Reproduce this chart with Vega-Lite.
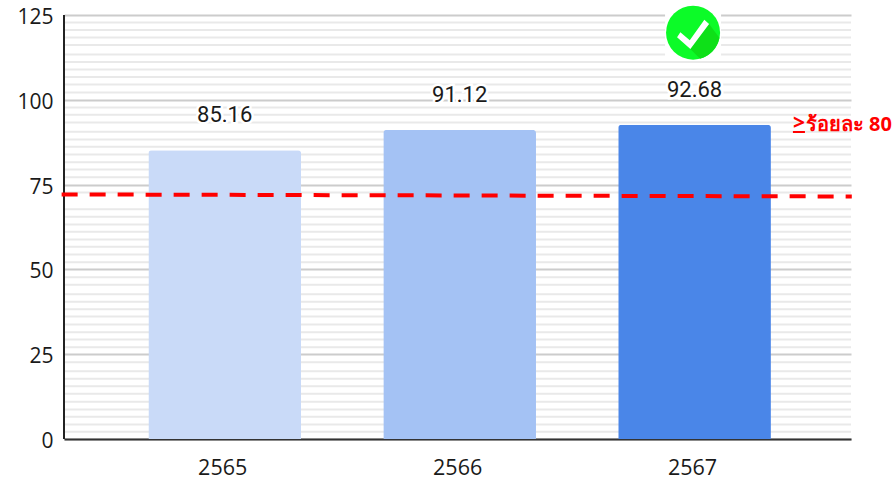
{
  "$schema": "https://vega.github.io/schema/vega-lite/v6.json",
  "width": 787,
  "height": 424,
  "autosize": "none",
  "padding": {"left": 64, "top": 15, "right": 42, "bottom": 40},
  "background": "white",
  "config": {"view": {"stroke": null}},
  "datasets": {
    "bars": [
      {"year": "2565", "value": 85.16, "fill": "a"},
      {"year": "2566", "value": 91.12, "fill": "b"},
      {"year": "2567", "value": 92.68, "fill": "c"}
    ],
    "minor": [
      {"v": 122.79}, {"v": 120.58}, {"v": 118.37}, {"v": 116.16}, {"v": 113.35}, {"v": 111.14},
      {"v": 108.93}, {"v": 106.72}, {"v": 104.51}, {"v": 102.15}, {"v": 97.73}, {"v": 95.58},
      {"v": 93.31}, {"v": 90.57}, {"v": 88.3}, {"v": 86.14}, {"v": 83.87}, {"v": 81.6},
      {"v": 79.45}, {"v": 77.18}, {"v": 72.67}, {"v": 67.75}, {"v": 65.51}, {"v": 63.24},
      {"v": 61.08}, {"v": 58.81}, {"v": 56.66}, {"v": 54.39}, {"v": 52.12}, {"v": 47.7},
      {"v": 45.46}, {"v": 42.69}, {"v": 40.45}, {"v": 38.27}, {"v": 36.11}, {"v": 33.76},
      {"v": 31.49}, {"v": 29.33}, {"v": 27.06}, {"v": 22.64}, {"v": 19.99}, {"v": 17.75},
      {"v": 15.57}, {"v": 13.33}, {"v": 10.97}, {"v": 8.7}, {"v": 6.54}, {"v": 4.27}, {"v": 2.12}
    ],
    "target": [
      {"pos": -0.003, "v": 72.1},
      {"pos": 1.001, "v": 71.5}
    ],
    "yline": [{"pos": 0, "from": 0, "to": 125}],
    "badge": [{"year": "2567", "v": 119.8}],
    "note": [{"pos": 0.9262, "end": 0.9415, "v": 92.5, "under": 90.5, "mark": ">", "text": "ร้อยละ 80"}]
  },
  "resolve": {"scale": {"x": "independent", "color": "independent"}},
  "layer": [
    {
      "data": {"name": "minor"},
      "mark": {"type": "rule", "stroke": "#e9e9e9", "strokeWidth": 2},
      "encoding": {
        "y": {
          "field": "v",
          "type": "quantitative",
          "scale": {"domain": [0, 125], "nice": false},
          "axis": {
            "values": [0, 25, 50, 75, 100, 125],
            "title": null,
            "grid": true,
            "gridColor": "#cccccc",
            "gridWidth": 2,
            "domain": false,
            "ticks": false,
            "labelFont": "Open Sans",
            "labelFontSize": 21,
            "labelColor": "#1a1a1a",
            "labelPadding": 11,
            "labelOffset": 2.5
          }
        }
      }
    },
    {
      "data": {"name": "yline"},
      "mark": {"type": "rule", "stroke": "#222222", "strokeWidth": 2, "clip": false},
      "encoding": {
        "x": {"field": "pos", "type": "quantitative", "scale": {"domain": [0, 1], "nice": false, "zero": false}, "axis": null},
        "y": {"field": "from", "type": "quantitative"},
        "y2": {"field": "to"}
      }
    },
    {
      "data": {"name": "bars"},
      "mark": {"type": "bar", "cornerRadiusTopLeft": 3, "cornerRadiusTopRight": 3},
      "encoding": {
        "x": {
          "field": "year",
          "type": "nominal",
          "scale": {"type": "band", "domain": ["2565", "2566", "2567"], "padding": 0.35, "align": 0.513, "round": false},
          "axis": {
            "title": null,
            "labelAngle": 0,
            "domainColor": "#333333",
            "domainWidth": 2,
            "ticks": false,
            "labelFont": "Open Sans",
            "labelFontSize": 21.5,
            "labelColor": "#1a1a1a",
            "labelPadding": 18,
            "labelOffset": -2
          }
        },
        "y": {"field": "value", "type": "quantitative"},
        "color": {
          "field": "fill",
          "type": "nominal",
          "scale": {"domain": ["a", "b", "c"], "range": ["#c9daf8", "#a4c2f4", "#4a86e8"]},
          "legend": null
        }
      }
    },
    {
      "data": {"name": "bars"},
      "mark": {"type": "text", "font": "Roboto", "fontSize": 22, "baseline": "middle", "stroke": "white", "strokeWidth": 5, "dy": -35},
      "encoding": {
        "x": {"field": "year", "type": "nominal", "bandPosition": 0.5, "scale": {"type": "band", "domain": ["2565", "2566", "2567"], "padding": 0.35, "align": 0.513, "round": false}, "axis": null},
        "y": {"field": "value", "type": "quantitative"},
        "text": {"field": "value", "type": "quantitative", "format": ".2f"}
      }
    },
    {
      "data": {"name": "bars"},
      "mark": {"type": "text", "font": "Roboto", "fontSize": 22, "baseline": "middle", "fill": "#1a1a1a", "dy": -35},
      "encoding": {
        "x": {"field": "year", "type": "nominal", "bandPosition": 0.5, "scale": {"type": "band", "domain": ["2565", "2566", "2567"], "padding": 0.35, "align": 0.513, "round": false}, "axis": null},
        "y": {"field": "value", "type": "quantitative"},
        "text": {"field": "value", "type": "quantitative", "format": ".2f"}
      }
    },
    {
      "data": {"name": "badge"},
      "mark": {"type": "point", "shape": "square", "filled": true, "opacity": 1, "fill": "white", "size": 3136, "xOffset": -1.5},
      "encoding": {
        "x": {"field": "year", "type": "nominal", "bandPosition": 0.5, "scale": {"type": "band", "domain": ["2565", "2566", "2567"], "padding": 0.35, "align": 0.513, "round": false}, "axis": null},
        "y": {"field": "v", "type": "quantitative"}
      }
    },
    {
      "data": {"name": "badge"},
      "mark": {"type": "point", "shape": "circle", "filled": true, "opacity": 1, "fill": "#0cfb28", "size": 2916, "xOffset": -1.5},
      "encoding": {
        "x": {"field": "year", "type": "nominal", "bandPosition": 0.5, "scale": {"type": "band", "domain": ["2565", "2566", "2567"], "padding": 0.35, "align": 0.513, "round": false}, "axis": null},
        "y": {"field": "v", "type": "quantitative"}
      }
    },
    {
      "data": {"name": "badge"},
      "mark": {"type": "point", "shape": "M16,-8.7L26.3,5A27,27 0 0 1 7,26L-2.7,16.3Z", "filled": true, "opacity": 1, "fill": "#0ee018", "size": 4, "xOffset": -1.5},
      "encoding": {
        "x": {"field": "year", "type": "nominal", "bandPosition": 0.5, "scale": {"type": "band", "domain": ["2565", "2566", "2567"], "padding": 0.35, "align": 0.513, "round": false}, "axis": null},
        "y": {"field": "v", "type": "quantitative"}
      }
    },
    {
      "data": {"name": "badge"},
      "mark": {"type": "point", "shape": "M-12.7,-0.3L-16,4.7L-2.7,16.3L16,-8.7L11.3,-13L-3.3,7.7Z", "filled": true, "opacity": 1, "fill": "white", "size": 4, "xOffset": -1.5},
      "encoding": {
        "x": {"field": "year", "type": "nominal", "bandPosition": 0.5, "scale": {"type": "band", "domain": ["2565", "2566", "2567"], "padding": 0.35, "align": 0.513, "round": false}, "axis": null},
        "y": {"field": "v", "type": "quantitative"}
      }
    },
    {
      "data": {"name": "target"},
      "mark": {"type": "line", "stroke": "#ff0000", "strokeWidth": 4, "strokeDash": [16, 12], "clip": false},
      "encoding": {
        "x": {"field": "pos", "type": "quantitative", "scale": {"domain": [0, 1], "nice": false, "zero": false}, "axis": null},
        "y": {"field": "v", "type": "quantitative"}
      }
    },
    {
      "data": {"name": "note"},
      "mark": {"type": "text", "font": "Noto Sans", "fontSize": 20, "fontWeight": "bold", "fill": "#ff0000", "align": "left", "baseline": "middle", "dx": 13},
      "encoding": {
        "x": {"field": "pos", "type": "quantitative", "scale": {"domain": [0, 1], "nice": false, "zero": false}, "axis": null},
        "y": {"field": "v", "type": "quantitative"},
        "text": {"field": "text"}
      }
    },
    {
      "data": {"name": "note"},
      "mark": {"type": "text", "font": "Noto Sans", "fontSize": 21, "fontWeight": "bold", "fill": "#ff0000", "align": "left", "baseline": "middle", "dy": -1.5},
      "encoding": {
        "x": {"field": "pos", "type": "quantitative", "scale": {"domain": [0, 1], "nice": false, "zero": false}, "axis": null},
        "y": {"field": "v", "type": "quantitative"},
        "text": {"field": "mark"}
      }
    },
    {
      "data": {"name": "note"},
      "mark": {"type": "rule", "stroke": "#ff0000", "strokeWidth": 2, "clip": false},
      "encoding": {
        "x": {"field": "pos", "type": "quantitative", "scale": {"domain": [0, 1], "nice": false, "zero": false}, "axis": null},
        "x2": {"field": "end"},
        "y": {"field": "under", "type": "quantitative"}
      }
    }
  ]
}
